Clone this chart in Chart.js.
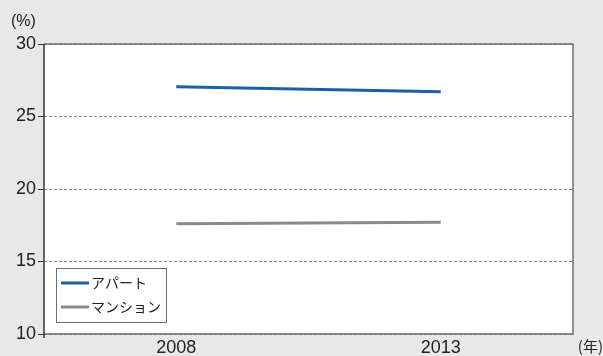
<!DOCTYPE html>
<html>
<head>
<meta charset="utf-8">
<script src="https://cdn.jsdelivr.net/npm/chart.js@4/dist/chart.umd.min.js"></script>
<style>
html,body{margin:0;padding:0;background:#e8e8e8;}
#wrap{width:603px;height:356px;position:relative;}
</style>
</head>
<body>
<div id="wrap"><canvas id="c" width="603" height="356"></canvas></div>
<script>
const years = ['2008', '2013'];
const apartment = [27.05, 26.7];
const mansion = [17.6, 17.7];
const seriesLabels = ['アパート', 'マンション'];
const yTicks = [10, 15, 20, 25, 30];
const yUnit = '(%)';
const xUnit = '(年)';

const FONT = '"Liberation Sans", Arial, sans-serif';
const JFONT = '"Noto Sans CJK JP", sans-serif';

const framePlugin = {
  id: 'frame',
  beforeDraw(chart) {
    const {ctx, chartArea: a} = chart;
    ctx.save();
    ctx.fillStyle = '#e8e8e8';
    ctx.fillRect(0, 0, chart.width, chart.height);
    ctx.fillStyle = '#ffffff';
    ctx.fillRect(a.left, a.top, a.right - a.left, a.bottom - a.top);
    ctx.restore();
  },
  afterDatasetsDraw(chart) {
    const {ctx, chartArea: a} = chart;
    ctx.save();
    ctx.strokeStyle = '#6e6e6e';
    ctx.lineWidth = 1.5;
    ctx.beginPath();
    ctx.moveTo(a.left, a.top);
    ctx.lineTo(a.right, a.top);
    ctx.lineTo(a.right, a.bottom);
    ctx.lineTo(a.left, a.bottom);
    ctx.stroke();
    ctx.strokeStyle = '#333333';
    ctx.beginPath();
    ctx.moveTo(a.left, a.top);
    ctx.lineTo(a.left, a.bottom + 4);
    ctx.stroke();
    // unit labels
    ctx.fillStyle = '#222222';
    ctx.font = '16px ' + FONT;
    ctx.textAlign = 'left';
    ctx.textBaseline = 'middle';
    ctx.fillText(yUnit, 11, 22);
    ctx.font = '15px ' + JFONT;
    ctx.textAlign = 'right';
    ctx.fillText(xUnit, 603, 346);
    // legend box
    const bx = 56, by = 268, bw = 110, bh = 54;
    ctx.fillStyle = '#ffffff';
    ctx.fillRect(bx, by, bw, bh);
    ctx.strokeStyle = '#6e6e6e';
    ctx.lineWidth = 1;
    ctx.strokeRect(bx + 0.5, by + 0.5, bw, bh);
    chart.data.datasets.forEach((ds, i) => {
      const y = by + 15 + i * 24;
      ctx.strokeStyle = ds.borderColor;
      ctx.lineWidth = 3;
      ctx.beginPath();
      ctx.moveTo(bx + 5, y);
      ctx.lineTo(bx + 33, y);
      ctx.stroke();
      ctx.fillStyle = '#222222';
      ctx.font = '14px ' + JFONT;
      ctx.textAlign = 'left';
      ctx.textBaseline = 'middle';
      ctx.fillText(ds.label, bx + 35, y);
    });
    ctx.restore();
  }
};

new Chart(document.getElementById('c'), {
  type: 'line',
  data: {
    labels: years,
    datasets: [
      {label: seriesLabels[0], data: apartment, borderColor: '#1c5ea8', borderWidth: 3, pointRadius: 0, tension: 0},
      {label: seriesLabels[1], data: mansion, borderColor: '#8a8a8a', borderWidth: 3, pointRadius: 0, tension: 0}
    ]
  },
  options: {
    responsive: false,
    animation: false,
    layout: {padding: {left: 0, top: 44, right: 30, bottom: 0}},
    plugins: {legend: {display: false}, tooltip: {enabled: false}},
    scales: {
      x: {
        offset: true,
        afterFit(s) { s.height = 22; },
        grid: {offset: true, display: false, drawOnChartArea: false, drawTicks: false},
        border: {display: false},
        ticks: {color: '#222222', font: {family: FONT, size: 18}, padding: 3, maxRotation: 0}
      },
      y: {
        min: 10, max: 30,
        afterFit(s) { s.width = 44; },
        afterBuildTicks(s) { s.ticks = yTicks.map(v => ({value: v})); },
        grid: {color: '#888888', lineWidth: 1, tickLength: 6, tickColor: '#333333', tickBorderDash: [], tickWidth: 1},
        border: {display: false, dash: [3, 2]},
        ticks: {color: '#222222', font: {family: FONT, size: 18}, padding: 2}
      }
    }
  },
  plugins: [framePlugin]
});
</script>
</body>
</html>
